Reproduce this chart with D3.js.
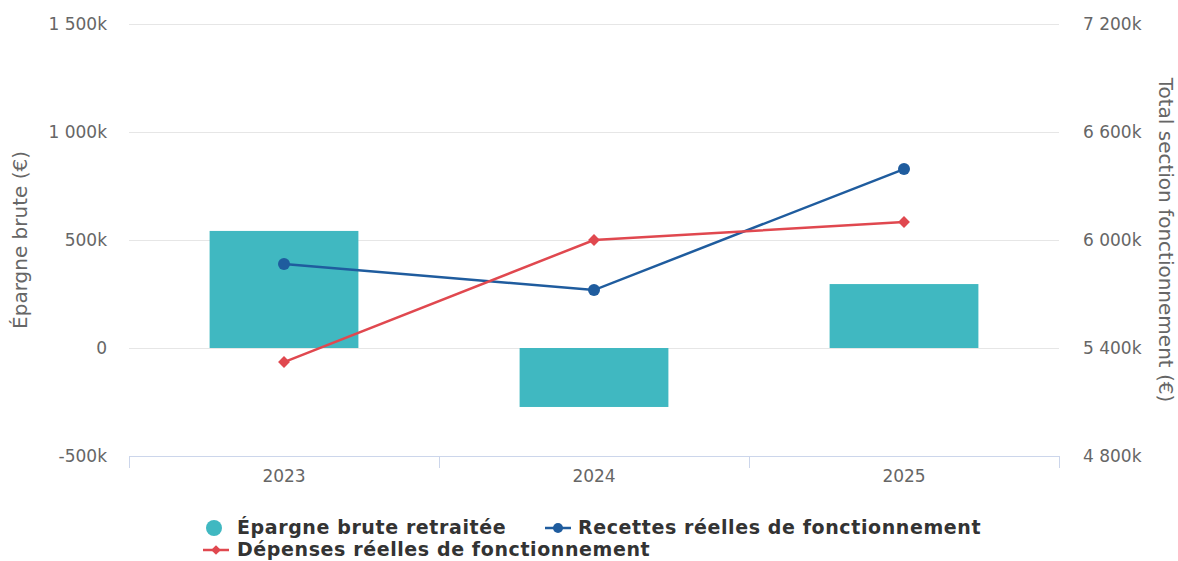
<!DOCTYPE html>
<html lang="fr">
<head>
<meta charset="UTF-8">
<script src="https://d3js.org/d3.v7.min.js"></script>
<style>
  body { margin: 0; background: #fff; }
  svg { font-family: "DejaVu Sans", sans-serif; }
  .grid line { stroke: #e6e6e6; }
  .grid path { display: none; }
  .tick text { fill: #666; font-size: 17px; font-family: "DejaVu Sans", sans-serif; }
  .legend text { fill: #333; font-size: 19px; font-weight: bold; letter-spacing: 0.6px; }
</style>
</head>
<body>
<script>
var years = ["2023", "2024", "2025"]
var epargne = [542, -273, 296]          // k€, axe gauche
var recettes = [5867, 5722, 6394]       // k€, axe droit
var depenses = [5322, 6000, 6100]       // k€, axe droit
var leftTicks = [-500, 0, 500, 1000, 1500]
var rightTicks = [4800, 5400, 6000, 6600, 7200]

var width = 1178, height = 561
var padding = { top: 24, right: 119, bottom: 105, left: 129 }
var plotW = width - padding.left - padding.right
var plotH = height - padding.top - padding.bottom

var fmt = function (v) {
  return v === 0 ? "0" : d3.format(",")(v).replace(/,/g, " ").replace("−", "-") + "k"
}

var svg = d3.select("body").append("svg")
  .attr("width", width)
  .attr("height", height)

var x = d3.scaleBand().domain(years).range([0, plotW])
var yL = d3.scaleLinear().domain([-500, 1500]).range([plotH, 0])
var yR = d3.scaleLinear().domain([4800, 7200]).range([plotH, 0])

var g = svg.append("g")
  .attr("transform", "translate(" + padding.left + "," + padding.top + ")")

// gridlines
g.append("g").attr("class", "grid")
  .call(d3.axisLeft(yL).tickValues(leftTicks).tickSize(-plotW).tickFormat(""))

// left axis labels
var la = g.append("g")
  .call(d3.axisLeft(yL).tickValues(leftTicks).tickSize(0).tickPadding(22).tickFormat(fmt))
la.select(".domain").remove()

// right axis labels
var ra = g.append("g")
  .attr("transform", "translate(" + plotW + ",0)")
  .call(d3.axisRight(yR).tickValues(rightTicks).tickSize(0).tickPadding(24).tickFormat(fmt))
ra.select(".domain").remove()

// bars
var bw = x.bandwidth() * 0.6 * 0.8
g.selectAll("rect.bar").data(epargne).enter().append("rect")
  .attr("class", "bar")
  .attr("x", function (d, i) { return x(years[i]) + (x.bandwidth() - bw) / 2 })
  .attr("y", function (d) { return yL(Math.max(0, d)) })
  .attr("width", bw)
  .attr("height", function (d) { return Math.abs(yL(d) - yL(0)) })
  .attr("fill", "#40b8c1")

// x axis
var xa = g.append("g")
  .attr("transform", "translate(0," + plotH + ")")
  .call(d3.axisBottom(x).tickSize(0).tickPadding(14))
xa.select(".domain").attr("stroke", "#ccd6eb")
xa.selectAll(".tick line").remove()
xa.selectAll("line.xt").data(d3.range(years.length + 1)).enter().append("line")
  .attr("class", "xt")
  .attr("x1", function (i) { return i * x.step() + 0.5 })
  .attr("x2", function (i) { return i * x.step() + 0.5 })
  .attr("y1", 0).attr("y2", 12)
  .attr("stroke", "#ccd6eb")

var cx = function (d, i) { return x(years[i]) + x.bandwidth() / 2 }

var line = d3.line().x(cx).y(function (d) { return yR(d) })

g.append("path").datum(recettes)
  .attr("d", line)
  .attr("fill", "none").attr("stroke", "#1f5c9e").attr("stroke-width", 2.5)
g.append("path").datum(depenses)
  .attr("d", line)
  .attr("fill", "none").attr("stroke", "#e0484f").attr("stroke-width", 2.5)

g.selectAll("circle.rec").data(recettes).enter().append("circle")
  .attr("class", "rec")
  .attr("cx", cx).attr("cy", function (d) { return yR(d) })
  .attr("r", 6).attr("fill", "#1f5c9e")

var diamond = d3.symbol().type(d3.symbolDiamond2).size(90)
g.selectAll("path.dep").data(depenses).enter().append("path")
  .attr("class", "dep")
  .attr("d", diamond)
  .attr("transform", function (d, i) { return "translate(" + cx(d, i) + "," + yR(d) + ")" })
  .attr("fill", "#e0484f")

// axis titles
svg.append("text")
  .attr("transform", "translate(27," + (padding.top + plotH / 2) + ") rotate(-90)")
  .attr("text-anchor", "middle")
  .attr("fill", "#666").attr("font-size", 20)
  .text("Épargne brute (€)")

svg.append("text")
  .attr("transform", "translate(1159," + (padding.top + plotH / 2) + ") rotate(90)")
  .attr("text-anchor", "middle")
  .attr("fill", "#666").attr("font-size", 20)
  .text("Total section fonctionnement (€)")

// legend
var lg = svg.append("g").attr("class", "legend")
lg.append("circle").attr("cx", 214).attr("cy", 528).attr("r", 8).attr("fill", "#40b8c1")
lg.append("text").attr("x", 237).attr("y", 534).text("Épargne brute retraitée")

lg.append("line").attr("x1", 545).attr("x2", 571).attr("y1", 528).attr("y2", 528)
  .attr("stroke", "#1f5c9e").attr("stroke-width", 2.5)
lg.append("circle").attr("cx", 558).attr("cy", 528).attr("r", 5).attr("fill", "#1f5c9e")
lg.append("text").attr("x", 578).attr("y", 534).text("Recettes réelles de fonctionnement")

lg.append("line").attr("x1", 203).attr("x2", 229).attr("y1", 550).attr("y2", 550)
  .attr("stroke", "#e0484f").attr("stroke-width", 2.5)
lg.append("path").attr("d", d3.symbol().type(d3.symbolDiamond2).size(60))
  .attr("transform", "translate(216,550)").attr("fill", "#e0484f")
lg.append("text").attr("x", 237).attr("y", 556).text("Dépenses réelles de fonctionnement")
</script>
</body>
</html>
